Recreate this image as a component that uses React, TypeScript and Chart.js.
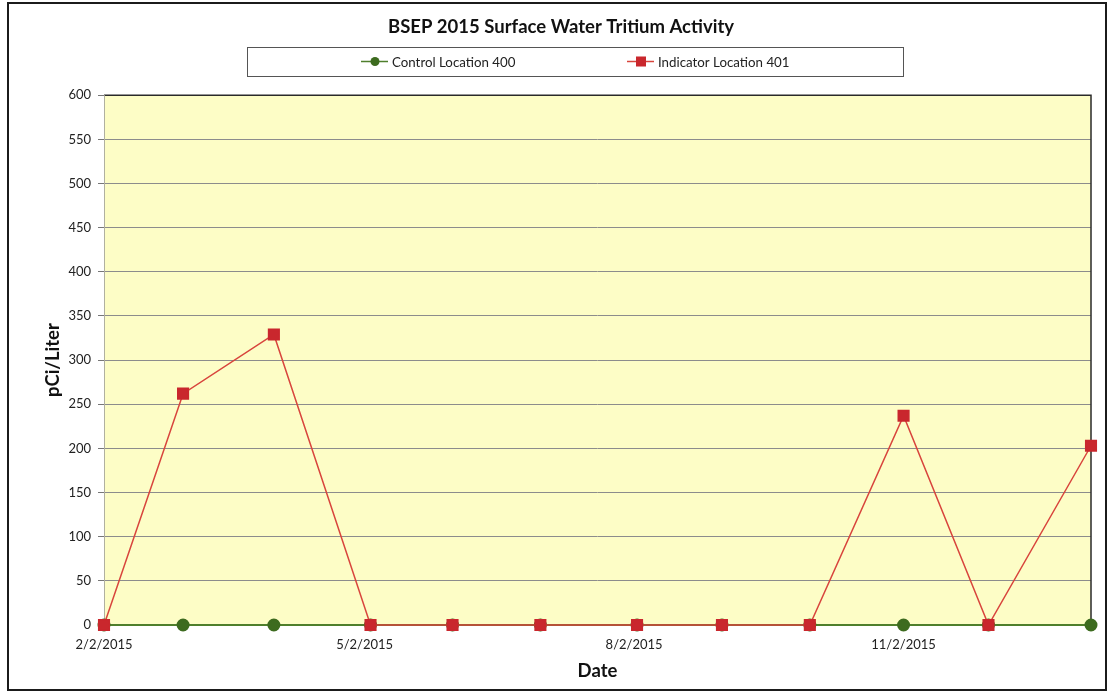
import React, { useEffect, useRef } from "react";
import { Chart, registerables } from "chart.js";

Chart.register(...registerables);

// ---- data ----
const sampleDates = [
  "2015-02-02", "2015-03-01", "2015-04-01", "2015-05-04", "2015-06-01", "2015-07-01",
  "2015-08-03", "2015-09-01", "2015-10-01", "2015-11-02", "2015-12-01", "2016-01-05",
];
const controlValues = [0, 0, 0, 0, 0, 0, 0, 0, 0, 0, 0, 0];
const indicatorValues = [0, 262, 329, 0, 0, 0, 0, 0, 0, 237, 0, 203];
const tickDates = ["2015-02-02", "2015-05-02", "2015-08-02", "2015-11-02"];
const seriesNames = ["Control Location 400", "Indicator Location 401"];
const chartTitle = "BSEP 2015 Surface Water Tritium Activity";

const DAY = 86400000;
const ORIGIN = Date.UTC(2015, 1, 2);
function toDay(s: string): number {
  const [y, m, d] = s.split("-").map(Number);
  return (Date.UTC(y, m - 1, d) - ORIGIN) / DAY;
}
function fmtDay(day: number): string {
  const dt = new Date(ORIGIN + Math.round(day) * DAY);
  return `${dt.getUTCMonth() + 1}/${dt.getUTCDate()}/${dt.getUTCFullYear()}`;
}

const FONT = "Lato, 'Open Sans', sans-serif";
const GREEN = "#3d6b1f";
const GREEN_LINE = "#4f7f2c";
const RED = "#c9272d";
const RED_LINE = "#d8453d";

const plotBg = {
  id: "plotBg",
  beforeDraw(chart: any) {
    const { ctx, chartArea: a } = chart;
    ctx.save();
    ctx.fillStyle = "#fdfdc6";
    ctx.fillRect(a.left, a.top, a.right - a.left, a.bottom - a.top);
    ctx.restore();
  },
  beforeDatasetsDraw(chart: any) {
    const { ctx, chartArea: a } = chart;
    ctx.save();
    ctx.lineWidth = 1.5;
    ctx.strokeStyle = "#2a2a2a";
    ctx.beginPath();
    ctx.moveTo(a.left, a.top);
    ctx.lineTo(a.right, a.top);
    ctx.lineTo(a.right, a.bottom);
    ctx.stroke();
    ctx.strokeStyle = "#b0b0a0";
    ctx.lineWidth = 1;
    ctx.beginPath();
    ctx.moveTo(a.left + 0.5, a.top);
    ctx.lineTo(a.left + 0.5, a.bottom);
    ctx.stroke();
    ctx.restore();
  },
};

const legendBox = {
  id: "legendBox",
  afterDraw(chart: any) {
    const ctx = chart.ctx;
    ctx.save();
    const x0 = 238, y0 = 43, w = 656, h = 29;
    ctx.strokeStyle = "#555";
    ctx.lineWidth = 1;
    ctx.strokeRect(x0 + 0.5, y0 + 0.5, w, h);
    const cy = y0 + h / 2;
    const items = [
      { x: 352, ds: chart.data.datasets[0], shape: "circle" },
      { x: 618, ds: chart.data.datasets[1], shape: "rect" },
    ];
    ctx.font = `13.3px ${FONT}`;
    ctx.textBaseline = "middle";
    ctx.textAlign = "left";
    for (const it of items) {
      ctx.strokeStyle = it.ds.borderColor;
      ctx.lineWidth = 1.5;
      ctx.beginPath();
      ctx.moveTo(it.x, cy);
      ctx.lineTo(it.x + 27, cy);
      ctx.stroke();
      ctx.fillStyle = it.ds.pointBackgroundColor;
      if (it.shape === "circle") {
        ctx.beginPath();
        ctx.arc(it.x + 14, cy, 4.5, 0, Math.PI * 2);
        ctx.fill();
      } else {
        ctx.fillRect(it.x + 14 - 5, cy - 5, 10, 10);
      }
      ctx.fillStyle = "#222";
      ctx.fillText(it.ds.label, it.x + 31, cy + 1);
    }
    ctx.restore();
  },
};

export default function App() {
  const ref = useRef<HTMLCanvasElement>(null);
  useEffect(() => {
    if (!ref.current) return;
    Chart.defaults.font.family = FONT;
    const days = sampleDates.map(toDay);
    const tickDays = tickDates.map(toDay);
    const chart = new Chart(ref.current, {
      type: "line",
      data: {
        datasets: [
          {
            label: seriesNames[0],
            data: days.map((d, i) => ({ x: d, y: controlValues[i] })),
            borderColor: GREEN_LINE,
            backgroundColor: GREEN,
            pointBackgroundColor: GREEN,
            pointBorderColor: GREEN,
            pointStyle: "circle",
            pointRadius: 5.5,
            borderWidth: 2,
            order: 1,
            clip: 12,
          } as any,
          {
            label: seriesNames[1],
            data: days.map((d, i) => ({ x: d, y: indicatorValues[i] })),
            borderColor: RED_LINE,
            backgroundColor: RED,
            pointBackgroundColor: RED,
            pointBorderColor: RED,
            pointStyle: "rect",
            pointRadius: 7.5,
            borderWidth: 1.5,
            order: 0,
            clip: 12,
          } as any,
        ],
      },
      options: {
        animation: false,
        responsive: false,
        layout: { padding: { left: 22, right: 14, top: 0, bottom: 0 } },
        plugins: {
          legend: { display: false },
          tooltip: { enabled: false },
          title: {
            display: true,
            text: chartTitle,
            color: "#111",
            font: { size: 18.5, weight: "bold", family: FONT },
            padding: { top: 12, bottom: 57 },
          },
        },
        scales: {
          x: {
            type: "linear",
            min: 0,
            max: days[days.length - 1],
            afterBuildTicks(s: any) {
              s.ticks = tickDays.map((v) => ({ value: v }));
            },
            afterFit(s: any) {
              s.height = 64;
            },
            ticks: {
              callback: (v: any) => fmtDay(Number(v)),
              maxRotation: 0,
              autoSkip: false,
              padding: 12,
              color: "#222",
              font: { size: 13, family: FONT },
            },
            grid: { display: false, drawTicks: false },
            border: { display: false },
            title: {
              display: true,
              text: "Date",
              color: "#111",
              font: { size: 18.5, weight: "bold", family: FONT },
              padding: { top: 0, bottom: 7 },
            },
          },
          y: {
            min: 0,
            max: 600,
            afterFit(s: any) {
              s.width = 73;
            },
            ticks: {
              stepSize: 50,
              padding: 7,
              color: "#222",
              font: { size: 13, family: FONT },
            },
            grid: { color: "#8c8c8c", tickLength: 6, tickColor: "#777" },
            border: { display: false },
            title: {
              display: true,
              text: "pCi/Liter",
              color: "#111",
              font: { size: 18.5, weight: "bold", family: FONT },
              padding: { top: 11, bottom: 0 },
            },
          },
        },
      } as any,
      plugins: [plotBg, legendBox],
    });
    return () => chart.destroy();
  }, []);

  return (
    <div
      style={{
        position: "absolute",
        left: 7,
        top: 2,
        width: 1100,
        height: 689,
        border: "2px solid #1b1b1b",
        boxSizing: "border-box",
        background: "#fff",
      }}
    >
      <canvas ref={ref} width={1096} height={685} style={{ display: "block" }} />
    </div>
  );
}
